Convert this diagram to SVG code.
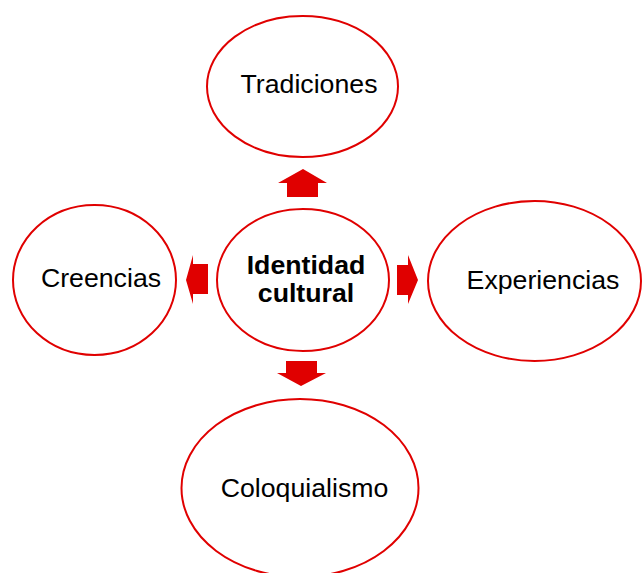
<svg xmlns="http://www.w3.org/2000/svg" width="644" height="573" viewBox="0 0 644 573">
<style>
.n{fill:#fff;stroke:#e00000;stroke-width:2}
.t{font-family:"Liberation Sans",Arial,sans-serif;font-size:26.7px;fill:#000;text-anchor:middle}
.b{font-weight:bold}
.a{fill:#e00000}
</style>
<rect width="644" height="573" fill="#fff"/>
<g id="connectors">
<polygon class="a" points="303,169 327,183 318,183 318,197 287,197 287,183 278,183"/>
<polygon class="a" points="186,280 193,255 193,264 208,264 208,294 193,294 193,304"/>
<polygon class="a" points="418,280 408,255 408,265 397,265 397,295 408,295 408,304"/>
<polygon class="a" points="301,386 277,373 286,373 286,361 317,361 317,373 326,373"/>
</g>
<g id="tradiciones"><ellipse class="n" cx="302.5" cy="86.5" rx="95.5" ry="70.5"/><text class="t" x="309" y="93">Tradiciones</text></g>
<g id="identidad"><ellipse class="n" cx="303" cy="280" rx="86" ry="71"/><text class="t b" x="306" y="274">Identidad</text><text class="t b" x="306" y="302">cultural</text></g>
<g id="creencias"><ellipse class="n" cx="94.5" cy="280" rx="81.5" ry="75"/><text class="t" x="101" y="287">Creencias</text></g>
<g id="experiencias"><ellipse class="n" cx="534.5" cy="281" rx="106.5" ry="80"/><text class="t" x="543" y="289">Experiencias</text></g>
<g id="coloquialismo"><ellipse class="n" cx="300" cy="488" rx="118.5" ry="89"/><text class="t" x="304.5" y="497">Coloquialismo</text></g>
</svg>
